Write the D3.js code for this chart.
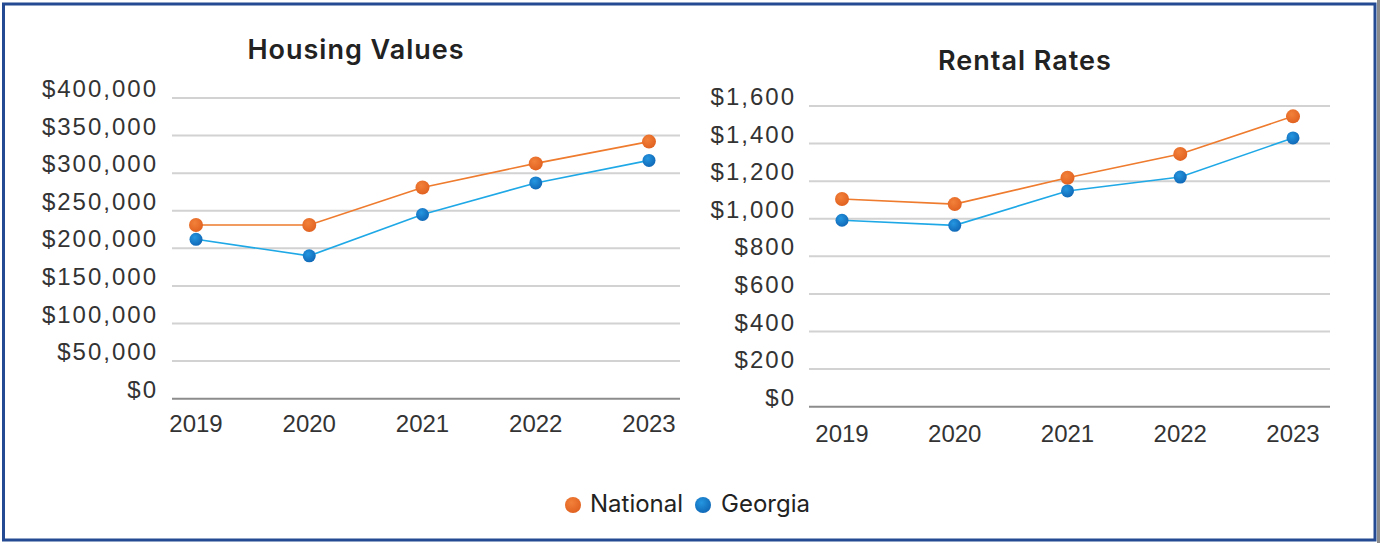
<!DOCTYPE html>
<html>
<head>
<meta charset="utf-8">
<script src="https://cdn.jsdelivr.net/npm/d3@7"></script>
<style>
  html, body { margin: 0; padding: 0; background: #fff; }
  svg { display: block; }
</style>
</head>
<body>
<svg id="chart" width="1380" height="543"></svg>
<script>
// ---- data ----
const years = ["2019", "2020", "2021", "2022", "2023"];
const housingNational = [231000, 231000, 281000, 313000, 342000];
const housingGeorgia  = [212000, 190000, 245000, 287000, 317000];
const rentalNational  = [1105, 1078, 1218, 1345, 1545];
const rentalGeorgia   = [992, 965, 1148, 1222, 1430];
const housingTicks = [0, 50000, 100000, 150000, 200000, 250000, 300000, 350000, 400000];
const rentalTicks  = [0, 200, 400, 600, 800, 1000, 1200, 1400, 1600];
const seriesNames = ["National", "Georgia"];

// ---- styles ----
const ORANGE_LINE = "#ee7b2e";
const BLUE_LINE = "#1fa8e6";
const FONT_AX = "'Liberation Sans', Arial, sans-serif";
const FONT_T = "Inter, 'Noto Sans', sans-serif";

const svg = d3.select("#chart");
const defs = svg.append("defs");
function grad(id, c1, c2) {
  const g = defs.append("radialGradient").attr("id", id).attr("cx", "40%").attr("cy", "35%").attr("r", "70%");
  g.append("stop").attr("offset", "0%").attr("stop-color", c1);
  g.append("stop").attr("offset", "100%").attr("stop-color", c2);
}
grad("gO", "#f2813a", "#e0601f");
grad("gB", "#2596e0", "#0f66b5");

// frame
svg.append("rect").attr("x", 3.5).attr("y", 4).attr("width", 1371.5).attr("height", 536)
  .attr("fill", "#fff").attr("stroke", "#234a92").attr("stroke-width", 3);
svg.append("rect").attr("x", 1377).attr("y", 0).attr("width", 3).attr("height", 543).attr("fill", "#8a8a8a");

function drawPanel(cfg) {
  const g = svg.append("g");
  const x = d3.scalePoint().domain(years).range([cfg.xStart, cfg.xEnd]);
  const y = d3.scaleLinear().domain([0, cfg.max]).range([cfg.yBottom, cfg.yTop]);

  // gridlines
  g.selectAll(".grid").data(cfg.ticks.filter(t => t > 0)).join("line")
    .attr("x1", cfg.gridL).attr("x2", cfg.gridR)
    .attr("y1", d => y(d)).attr("y2", d => y(d))
    .attr("stroke", "#d2d2d2").attr("stroke-width", 2);
  // baseline
  g.append("line").attr("x1", cfg.gridL).attr("x2", cfg.gridR)
    .attr("y1", y(0)).attr("y2", y(0)).attr("stroke", "#8c8c8c").attr("stroke-width", 2);

  // y labels
  const fmt = d3.format("$,");
  g.selectAll(".yl").data(cfg.ticks).join("text")
    .attr("x", cfg.labelR).attr("y", d => y(d) + cfg.labelDy)
    .attr("text-anchor", "end")
    .attr("font-family", FONT_AX).attr("font-size", 24)
    .attr("letter-spacing", cfg.ls)
    .attr("fill", "#333").text(d => fmt(d));

  // x labels
  g.selectAll(".xl").data(years).join("text")
    .attr("x", d => x(d)).attr("y", cfg.xLabelY)
    .attr("text-anchor", "middle")
    .attr("font-family", FONT_AX).attr("font-size", 24)
    .attr("fill", "#333").text(d => d);

  // title
  g.append("text").attr("x", cfg.titleX).attr("y", cfg.titleY)
    .attr("text-anchor", "middle").attr("font-family", FONT_T)
    .attr("font-weight", 600).attr("font-size", 27).attr("letter-spacing", 1)
    .attr("fill", "#222")
    .text(cfg.title);

  const line = d3.line().x((d, i) => x(years[i])).y(d => y(d));
  const series = [
    { vals: cfg.nat, lc: ORANGE_LINE, fill: "url(#gO)", r: 7 },
    { vals: cfg.geo, lc: BLUE_LINE, fill: "url(#gB)", r: 6.5 }
  ];
  series.forEach(s => {
    g.append("path").datum(s.vals).attr("d", line)
      .attr("fill", "none").attr("stroke", s.lc).attr("stroke-width", 1.6);
  });
  series.forEach(s => {
    g.selectAll(null).data(s.vals).join("circle")
      .attr("cx", (d, i) => x(years[i])).attr("cy", d => y(d))
      .attr("r", s.r).attr("fill", s.fill);
  });
}

drawPanel({
  title: "Housing Values", titleX: 356, titleY: 59,
  nat: housingNational, geo: housingGeorgia, ticks: housingTicks, max: 400000,
  xStart: 196, xEnd: 649, yTop: 98, yBottom: 398.7,
  gridL: 172, gridR: 680, labelR: 158, labelDy: -1, ls: 2, xLabelY: 432
});
drawPanel({
  title: "Rental Rates", titleX: 1025, titleY: 70,
  nat: rentalNational, geo: rentalGeorgia, ticks: rentalTicks, max: 1600,
  xStart: 842, xEnd: 1293, yTop: 106, yBottom: 406.7,
  gridL: 809, gridR: 1330, labelR: 796, labelDy: -1, ls: 2, xLabelY: 442
});

// legend
const legend = svg.append("g");
const legItems = [
  { name: seriesNames[0], fill: "url(#gO)", cx: 573, tx: 590 },
  { name: seriesNames[1], fill: "url(#gB)", cx: 703, tx: 721 }
];
legItems.forEach(it => {
  legend.append("circle").attr("cx", it.cx).attr("cy", 505).attr("r", 8).attr("fill", it.fill);
  legend.append("text").attr("x", it.tx).attr("y", 512)
    .attr("font-family", FONT_T).attr("font-size", 24).attr("fill", "#222").text(it.name);
});
</script>
</body>
</html>
